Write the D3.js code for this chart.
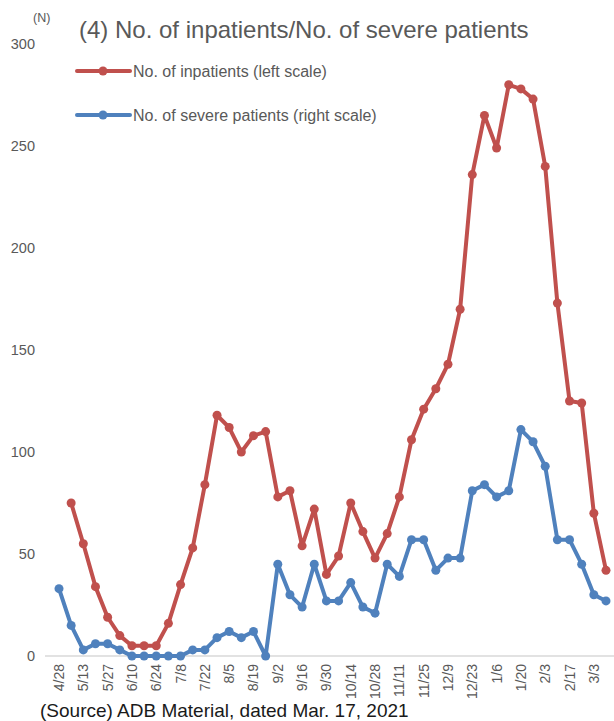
<!DOCTYPE html>
<html><head><meta charset="utf-8">
<script src="https://cdn.jsdelivr.net/npm/d3@7"></script>
<style>body{margin:0;background:#fff;}svg{display:block;font-family:"Liberation Sans",Arial,sans-serif;}</style>
</head><body>
<svg id="c" width="614" height="721"></svg>
<script>
const categories = ["4/28","5/6","5/13","5/20","5/27","6/3","6/10","6/17","6/24","7/1","7/8","7/15","7/22","7/29","8/5","8/12","8/19","8/26","9/2","9/9","9/16","9/23","9/30","10/7","10/14","10/21","10/28","11/4","11/11","11/18","11/25","12/2","12/9","12/16","12/23","12/30","1/6","1/13","1/20","1/27","2/3","2/10","2/17","2/24","3/3","3/10"];
const inpatients = [null,75,55,34,19,10,5,5,5,16,35,53,84,118,112,100,108,110,78,81,54,72,40,49,75,61,48,60,78,106,121,131,143,170,236,265,249,280,278,273,240,173,125,124,70,42];
const severe = [11,5,1,2,2,1,0,0,0,0,0,1,1,3,4,3,4,0,15,10,8,15,9,9,12,8,7,15,13,19,19,14,16,16,27,28,26,27,37,35,31,19,19,15,10,9];
const leftTicks = [0,50,100,150,200,250,300];
const xTickLabels = categories.filter((d,i)=>i%2===0);
const seriesNames = ["No. of inpatients (left scale)","No. of severe patients (right scale)"];
const colors = ["#C0504D","#4F81BD"];

const svg = d3.select("#c");
const x = d3.scalePoint().domain(categories).range([59,606]);
const yL = d3.scaleLinear().domain([0,300]).range([656,44]);
const yR = d3.scaleLinear().domain([0,100]).range([656,44]);
const grey = "#595959";

// baseline
svg.append("line").attr("x1",45).attr("x2",614).attr("y1",yL(0)).attr("y2",yL(0))
  .attr("stroke","#d9d9d9").attr("stroke-width",1.5);

// left axis labels
svg.append("g").selectAll("text").data(leftTicks).join("text")
  .attr("x",35).attr("y",d=>yL(d)).attr("dy","0.35em").attr("text-anchor","end")
  .attr("font-size",14.5).attr("fill",grey).text(d=>d);

// x labels
svg.append("g").selectAll("text").data(xTickLabels).join("text")
  .attr("transform",d=>`translate(${x(d)+5},664) rotate(-90)`)
  .attr("text-anchor","end").attr("font-size",14).attr("fill",grey).text(d=>d);

// title & unit
svg.append("text").attr("x",33).attr("y",22).attr("font-size",12.5).attr("fill",grey).text("(N)");
svg.append("text").attr("x",79).attr("y",38).attr("font-size",24).attr("fill",grey)
  .text("(4) No. of inpatients/No. of severe patients");

// lines
function drawSeries(vals, y, color){
  const pts = vals.map((v,i)=>({c:categories[i],v})).filter(d=>d.v!==null);
  svg.append("path").datum(pts)
    .attr("d",d3.line().x(d=>x(d.c)).y(d=>y(d.v)))
    .attr("fill","none").attr("stroke",color).attr("stroke-width",4)
    .attr("stroke-linejoin","round").attr("stroke-linecap","round");
  svg.append("g").selectAll("circle").data(pts).join("circle")
    .attr("cx",d=>x(d.c)).attr("cy",d=>y(d.v)).attr("r",4.5).attr("fill",color);
}
drawSeries(inpatients, yL, colors[0]);
drawSeries(severe, yR, colors[1]);

// legend
const leg = svg.append("g");
[71,115].forEach((ly,i)=>{
  leg.append("line").attr("x1",77).attr("x2",130).attr("y1",ly).attr("y2",ly)
    .attr("stroke",colors[i]).attr("stroke-width",4).attr("stroke-linecap","round");
  leg.append("circle").attr("cx",103).attr("cy",ly).attr("r",4.5).attr("fill",colors[i]);
  leg.append("text").attr("x",133).attr("y",ly).attr("dy","0.35em").attr("font-size",16)
    .attr("fill",grey).text(seriesNames[i]);
});

// source
svg.append("text").attr("x",40).attr("y",717).attr("font-size",19).attr("fill","#1a1a1a")
  .text("(Source) ADB Material, dated Mar. 17, 2021");
</script>
</body></html>
